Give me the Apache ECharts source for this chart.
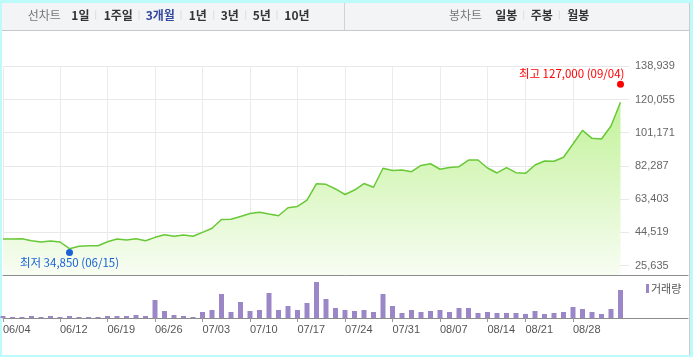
<!DOCTYPE html>
<html><head><meta charset="utf-8">
<script src="https://cdn.jsdelivr.net/npm/echarts@6/dist/echarts.min.js"></script>
<style>
html,body{margin:0;padding:0;background:#bdfbfb;width:693px;height:357px;overflow:hidden;}
#panel{position:absolute;left:2px;top:3px;width:688px;height:352px;background:#fff;}
#chart{position:absolute;left:0;top:0;width:693px;height:357px;}
</style></head>
<body><div id="panel"></div><div id="chart"></div>
<script>
// ---- data ----
const dates = ['06/04','06/05','06/08','06/09','06/10','06/11','06/12','06/15','06/16','06/17','06/18','06/19','06/22','06/23','06/24','06/25','06/26','06/29','06/30',
'07/01','07/02','07/03','07/06','07/07','07/08','07/09','07/10','07/13','07/14','07/15','07/16','07/17','07/20','07/21','07/22','07/23','07/24','07/27','07/28','07/29','07/30','07/31',
'08/03','08/04','08/05','08/06','08/07','08/10','08/11','08/12','08/13','08/14','08/18','08/19','08/20','08/21','08/24','08/25','08/26','08/27','08/28','08/31',
'09/01','09/02','09/03','09/04'];
const closes = [40750,40750,40900,39800,39050,39600,39050,35250,36600,36950,36950,39200,40750,40200,40900,39800,41700,43200,42300,
43050,42300,44550,46850,51850,52000,53550,55250,56000,54950,54000,58500,59250,62800,72200,71850,69200,66050,68600,72300,70200,81000,79700,
80000,79000,82550,83550,80400,81400,81850,85650,85650,81100,78300,81300,78450,78100,82800,85100,84950,87250,94750,102550,
98000,97600,105000,118500];
const volumes = [2,1,1,2,1,2,1,2,1,1,1,2,2,2,3,2,18,7,3,
2,1,6,8,24,6,16,7,8,25,8,12,8,15,36,19,10,8,7,8,6,24,12,
5,8,6,7,8,6,10,10,5,6,5,5,5,4,7,4,5,6,11,9,
6,4,9,28];
const xTickLabels = ['06/04','06/12','06/19','06/26','07/03','07/10','07/17','07/24','07/31','08/07','08/14','08/21','08/28'];
const yTickValues = [25635,44519,63403,82287,101171,120055,138939];
const highDate = '09/04', highValue = 127000;
const lowDate = '06/15', lowValue = 34850;
const periodTabs = ['1일','1주일','3개월','1년','3년','5년','10년'];
const candleTabs = ['일봉','주봉','월봉'];

// ---- chart ----
const FONT = "'Liberation Sans', 'Noto Sans CJK KR', sans-serif";
const KFONT = "'Noto Sans CJK KR', 'Liberation Sans', sans-serif";
const showTick = (i, v) => xTickLabels.indexOf(v) >= 0;
const fmt = v => v.toLocaleString('en-US');
const yStep = yTickValues[1] - yTickValues[0];
const yMin = yTickValues[0] - yStep * (9.4 / 33.22);

const tabX = [71.3, 103.7, 145.7, 188.7, 220.7, 252.7, 284.3];
const sepX = [95.7, 139, 181, 213.7, 245.7, 277];
const cTabX = [495.3, 530.7, 567.3];
const cSepX = [523.7, 559.3];
const graphic = [
  {type:'rect', shape:{x:2, y:3, width:688, height:27}, style:{fill:'#f3f4f6'}, silent:true},
  {type:'line', shape:{x1:2, y1:30.5, x2:690, y2:30.5}, style:{stroke:'#c9c9c9', lineWidth:1}},
  {type:'line', shape:{x1:344.5, y1:3, x2:344.5, y2:30}, style:{stroke:'#d2d2d2', lineWidth:1}},
  {type:'line', shape:{x1:689.5, y1:3, x2:689.5, y2:355}, style:{stroke:'#cccccc', lineWidth:1}},
  {type:'text', x:27.7, y:15, style:{text:'선차트', font:'12px ' + KFONT, fill:'#777', verticalAlign:'middle'}},
  {type:'text', x:449, y:15, style:{text:'봉차트', font:'12px ' + KFONT, fill:'#777', verticalAlign:'middle'}}
];
periodTabs.forEach((t, i) => graphic.push({type:'text', x:tabX[i], y:15,
  style:{text:t, font:'bold 12px ' + KFONT, fill: t === '3개월' ? '#33489c' : '#333', verticalAlign:'middle'}}));
candleTabs.forEach((t, i) => graphic.push({type:'text', x:cTabX[i], y:15,
  style:{text:t, font:'bold 12px ' + KFONT, fill:'#333', verticalAlign:'middle'}}));
sepX.concat(cSepX).forEach(x => graphic.push({type:'line', shape:{x1:x, y1:10.5, x2:x, y2:19.5}, style:{stroke:'#dddddd', lineWidth:1}}));

const chart = echarts.init(document.getElementById('chart'), null, {renderer:'canvas'});
chart.setOption({
  animation:false,
  backgroundColor:'transparent',
  textStyle:{fontFamily:FONT},
  graphic: graphic,
  legend:{data:['거래량'], left:646, top:283, icon:'rect', itemWidth:3, itemHeight:9, padding:0, itemGap:0,
    selectedMode:false, textStyle:{fontSize:11, color:'#555', fontFamily:KFONT, padding:[0,0,0,-3]}},
  grid:[
    {left:3, right:72.5, top:66.3, bottom:82},
    {left:3, right:64, top:66.3, bottom:91.4},
    {left:3, right:72.5, top:276, bottom:39},
    {left:3, right:5, top:274, height:1},
    {left:3, right:5, top:317, height:1}
  ],
  xAxis:[
    {gridIndex:0, type:'category', data:dates, boundaryGap:false, axisLine:{show:false}, axisTick:{show:false}, axisLabel:{show:false},
      splitLine:{show:true, interval:showTick, lineStyle:{color:'#ebebeb', width:1}}},
    {gridIndex:1, type:'value', show:false, min:0, max:1},
    {gridIndex:2, type:'category', data:dates, boundaryGap:false, axisLine:{show:false},
      axisTick:{show:true, interval:showTick, length:4, lineStyle:{color:'#999'}},
      axisLabel:{interval:showTick, align:'left', margin:6, color:'#555', fontSize:11, fontFamily:FONT},
      splitLine:{show:false}},
    {gridIndex:3, type:'category', data:[''], axisLine:{lineStyle:{color:'#8c8c8c', width:1}}, axisTick:{show:false}, axisLabel:{show:false}},
    {gridIndex:4, type:'category', data:[''], axisLine:{lineStyle:{color:'#8c8c8c', width:1}}, axisTick:{show:false}, axisLabel:{show:false}}
  ],
  yAxis:[
    {gridIndex:0, type:'value', min:yMin, max:yTickValues[6], show:false},
    {gridIndex:1, type:'value', min:0, max:6, interval:1, position:'right', axisLine:{show:false}, axisTick:{show:false},
      axisLabel:{formatter:v => fmt(yTickValues[v]), color:'#666', fontSize:11, margin:6, fontFamily:FONT},
      splitLine:{lineStyle:{color:'#e8e8e8', width:1}}},
    {gridIndex:2, type:'value', min:0, max:42, show:false},
    {gridIndex:3, type:'value', show:false},
    {gridIndex:4, type:'value', show:false}
  ],
  series:[
    {type:'line', xAxisIndex:0, yAxisIndex:0, data:closes, symbol:'none', z:2, lineStyle:{color:'#68c936', width:1.5},
      areaStyle:{opacity:1, color:new echarts.graphic.LinearGradient(0,0,0,1,[{offset:0,color:'#c2f299'},{offset:1,color:'#f8fdf3'}])}},
    {type:'scatter', xAxisIndex:0, yAxisIndex:0, z:10, data:[[highDate, highValue]], symbolSize:7, symbolOffset:[0,-3],
      itemStyle:{color:'#ff0000', opacity:1},
      label:{show:true, position:'top', distance:1, align:'right', offset:[4,0], color:'#ff0000', fontSize:11.5, fontFamily:KFONT,
        formatter:'최고 ' + fmt(highValue) + ' (' + highDate + ')'}},
    {type:'scatter', xAxisIndex:0, yAxisIndex:0, z:10, data:[[lowDate, lowValue]], symbolSize:7, symbolOffset:[0,3],
      itemStyle:{color:'#1a62d6', opacity:1},
      label:{show:true, position:'bottom', distance:1, color:'#1a62d6', fontSize:11.5, fontFamily:KFONT,
        formatter:'최저 ' + fmt(lowValue) + ' (' + lowDate + ')'}},
    {type:'bar', name:'거래량', xAxisIndex:2, yAxisIndex:2, data:volumes, barWidth:5, itemStyle:{color:'#9b87c7'}}
  ]
});
</script></body></html>
